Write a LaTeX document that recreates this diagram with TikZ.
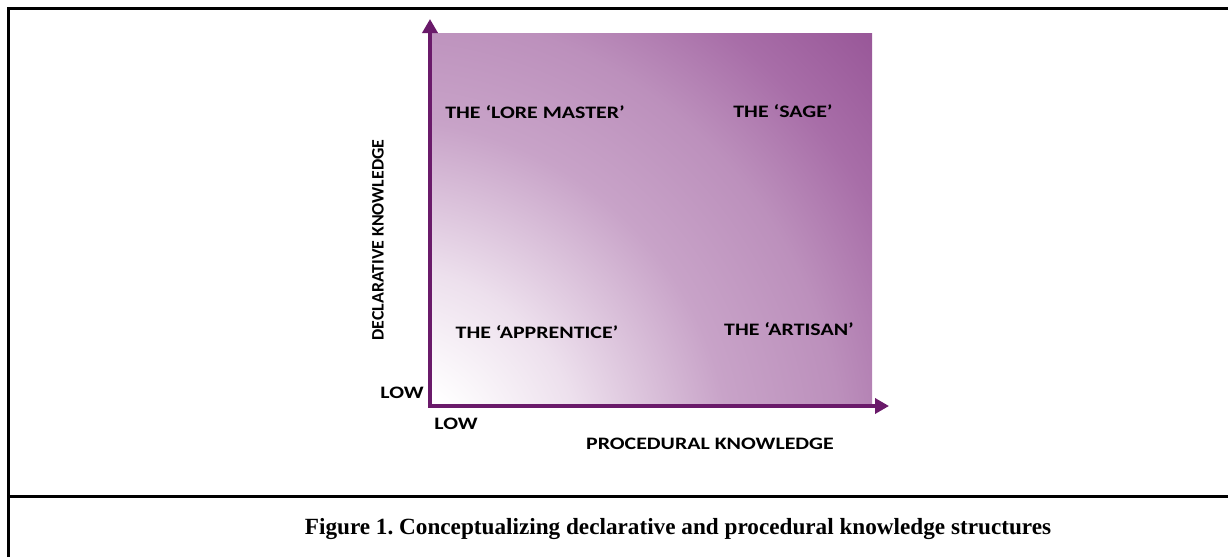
\documentclass[tikz,border=0pt]{standalone}
\usepackage{fontspec}
\setmainfont{Liberation Serif}
\newfontfamily\quadfont{Carlito}
\usetikzlibrary{arrows.meta}
\definecolor{axispurple}{HTML}{6A1A6A}
\definecolor{sagepurple}{HTML}{995899}
\definecolor{deeppurple}{HTML}{A86EA8}
\definecolor{midpurple}{HTML}{C8A3C8}
\definecolor{farpurple}{HTML}{BC90BC}
\definecolor{palepurple}{HTML}{EDE0ED}
\pgfdeclareradialshading{cornerglow}{\pgfpoint{0bp}{0bp}}{color(0bp)=(white); color(3.3bp)=(white); color(7.5bp)=(palepurple); color(12.9bp)=(midpurple); color(17bp)=(farpurple); color(20.5bp)=(deeppurple); color(24bp)=(sagepurple); color(50bp)=(sagepurple)}

\begin{document}
\begin{tikzpicture}[x=1pt,y=-1pt,
    quad/.style={font=\quadfont\bfseries\fontsize{17.5}{20}\selectfont,xscale=1.25},
    axlabel/.style={font=\quadfont\bfseries\fontsize{17.5}{20}\selectfont}]
  \useasboundingbox (0,0) rectangle (1228,557);
  % frame
  \draw[line width=3pt] (8.5,557) -- (8.5,8) -- (1228,8);
  \draw[line width=3pt] (8.5,496) -- (1228,496);
  % shaded square
  \coordinate (o) at (430,405);
  \coordinate (tr) at (872,33);
  \coordinate (glow) at (380,470);
  \begin{scope}
    \clip (o) rectangle (tr);
    \shade[shading=cornerglow] (glow) circle[radius=680pt];
  \end{scope}
  % axes
  \coordinate (ytip) at (430,19);
  \coordinate (xtip) at (889,406);
  \draw[axispurple,line width=4pt,-{Triangle[length=14pt,width=15pt]}] (430,407) -- (ytip);
  \draw[axispurple,line width=4pt,-{Triangle[length=14pt,width=15pt]}] (428,406) -- (xtip);
  % labels
  \node[quad] (lore) at (535,112) {THE ‘LORE MASTER’};
  \node[quad] (sage) at (783,111) {THE ‘SAGE’};
  \node[quad] (appr) at (537,332) {THE ‘APPRENTICE’};
  \node[quad] (arti) at (789,329) {THE ‘ARTISAN’};
  \node[axlabel,rotate=90,xscale=1.02] (decl) at (378,240) {DECLARATIVE KNOWLEDGE};
  \node[quad] (proc) at (710,444) {PROCEDURAL KNOWLEDGE};
  \node[quad] (lowy) at (402,393) {LOW};
  \node[quad] (lowx) at (456,424) {LOW};
  \node[font=\bfseries\fontsize{23.2}{27}\selectfont] (cap) at (678,529) {Figure 1.\ Conceptualizing declarative and procedural knowledge structures};
\end{tikzpicture}
\end{document}
